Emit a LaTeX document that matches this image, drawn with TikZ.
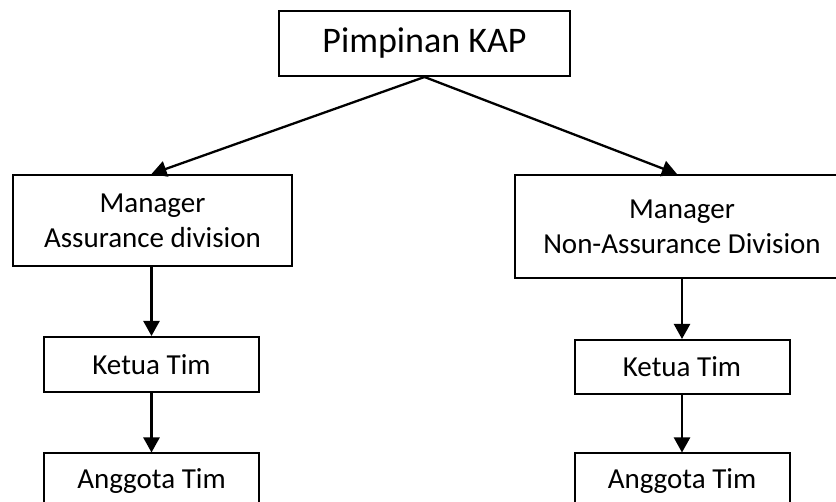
\documentclass[tikz,border=0pt]{standalone}
\usepackage{fontspec}
\setmainfont{Carlito}
\usetikzlibrary{arrows.meta}

\tikzset{
    box/.style={draw, line width=2pt, inner sep=0pt, align=center,
        font=\fontsize{29}{35}\selectfont},
    link/.style={line width=2.3pt, -{Triangle[length=15pt,width=16pt]}}
}

\begin{document}
\begin{tikzpicture}[x=1pt, y=-1pt]
    \useasboundingbox[fill=white] (0,0) rectangle (836,502);
    % top of the organisation
    \node[box, minimum width=291pt, minimum height=65pt,
        font=\fontsize{36}{43}\selectfont] (pimpinan) at (424.5,43.5) {Pimpinan KAP};
    % the two managers
    \node[box, minimum width=279pt, minimum height=91pt] (mgrA) at (152.5,220.5)
        {Manager\\Assurance division};
    \node[box, minimum width=334pt, minimum height=103pt] (mgrN) at (682,226.5)
        {Manager\\Non-Assurance Division};
    % teams under each manager
    \node[box, minimum width=215pt, minimum height=55pt] (ketuaA) at (151.5,364.5) {Ketua Tim};
    \node[box, minimum width=215pt, minimum height=55pt] (anggotaA) at (151.5,481) {Anggota Tim};
    \node[box, minimum width=215pt, minimum height=54pt] (ketuaN) at (682,367) {Ketua Tim};
    \node[box, minimum width=215pt, minimum height=55pt] (anggotaN) at (682,481) {Anggota Tim};
    % arrows
    \draw[link] (pimpinan.south) -- ([xshift=-1pt]mgrA.north);
    \draw[link] (pimpinan.south) -- ([xshift=-5pt]mgrN.north);
    \draw[link] (ketuaA.north |- mgrA.south) -- (ketuaA.north);
    \draw[link] (ketuaA.south) -- (anggotaA.north);
    \draw[link] (mgrN.south) -- (ketuaN.north);
    \draw[link] (ketuaN.south) -- (anggotaN.north);
\end{tikzpicture}
\end{document}
